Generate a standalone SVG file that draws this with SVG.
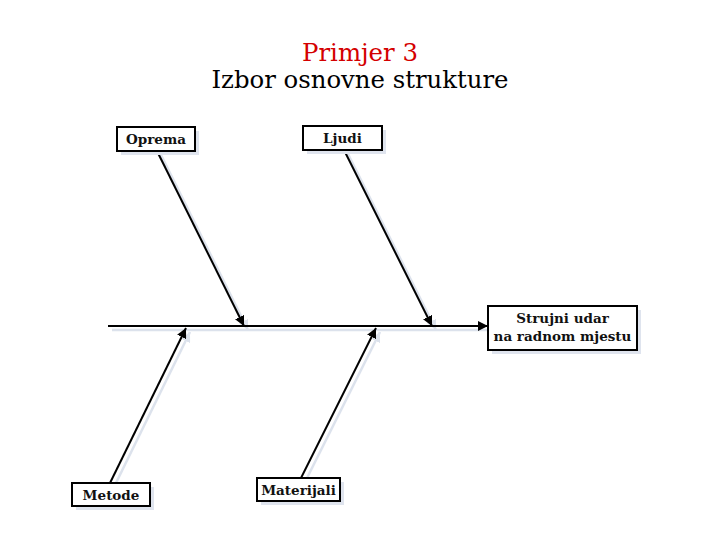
<svg xmlns="http://www.w3.org/2000/svg" width="720" height="540" viewBox="0 0 720 540">
<defs>
<style>
.box{fill:#fff;stroke:#000;stroke-width:2}
.shadow{fill:#dfe4ee;stroke:none}
.lbl{font-family:"DejaVu Serif","Liberation Serif",serif;font-weight:bold;font-size:13.5px;fill:#111;text-anchor:middle}
.line{stroke:#000;stroke-width:2;fill:none}
.sline{stroke:#dce2ec;stroke-width:2.5;fill:none}
.title{font-family:"DejaVu Serif","Liberation Serif",serif;font-size:24px;text-anchor:middle}
</style>
<marker id="ah" viewBox="0 0 10 10" refX="10" refY="5" markerWidth="5" markerHeight="5" orient="auto" markerUnits="strokeWidth">
<path d="M0,0 L10,5 L0,10 z" fill="#000"/>
</marker>
<marker id="ahs" viewBox="0 0 10 10" refX="10" refY="5" markerWidth="4" markerHeight="4" orient="auto" markerUnits="strokeWidth">
<path d="M0,0 L10,5 L0,10 z" fill="#dce2ec"/>
</marker>
</defs>
<rect width="720" height="540" fill="#fff"/>
<g id="title">
<text class="title" x="360" y="61" fill="#d40000" textLength="116" lengthAdjust="spacingAndGlyphs">Primjer 3</text>
<text class="title" x="360" y="88" fill="#000" textLength="297" lengthAdjust="spacingAndGlyphs">Izbor osnovne strukture</text>
</g>
<g id="connectors">
<line class="sline" x1="112" y1="330" x2="488" y2="330"/>
<line class="sline" x1="161" y1="155" x2="248" y2="330" marker-end="url(#ahs)"/>
<line class="sline" x1="348" y1="154" x2="436" y2="330" marker-end="url(#ahs)"/>
<line class="sline" x1="114" y1="487" x2="190" y2="332" marker-end="url(#ahs)"/>
<line class="sline" x1="305" y1="482" x2="380" y2="332" marker-end="url(#ahs)"/>
<line class="line" x1="108" y1="326" x2="488" y2="326" marker-end="url(#ah)"/>
<line class="line" x1="157" y1="151" x2="244" y2="326" marker-end="url(#ah)"/>
<line class="line" x1="344" y1="150" x2="432" y2="326" marker-end="url(#ah)"/>
<line class="line" x1="110" y1="483" x2="186" y2="328" marker-end="url(#ah)"/>
<line class="line" x1="301" y1="478" x2="376" y2="328" marker-end="url(#ah)"/>
</g>
<g id="oprema">
<rect class="shadow" x="121" y="131" width="78" height="24"/>
<rect class="box" x="117" y="127" width="78" height="24"/>
<text class="lbl" x="156" y="143.5">Oprema</text>
</g>
<g id="ljudi">
<rect class="shadow" x="307" y="130" width="79" height="24"/>
<rect class="box" x="303" y="126" width="79" height="24"/>
<text class="lbl" x="342.5" y="142.5">Ljudi</text>
</g>
<g id="strujni">
<rect class="shadow" x="492" y="310" width="149" height="44"/>
<rect class="box" x="488" y="306" width="149" height="44"/>
<text class="lbl" x="562.5" y="323">Strujni udar</text>
<text class="lbl" x="562.5" y="341">na radnom mjestu</text>
</g>
<g id="metode">
<rect class="shadow" x="76" y="487" width="78" height="23"/>
<rect class="box" x="72" y="483" width="78" height="23"/>
<text class="lbl" x="111" y="499.5">Metode</text>
</g>
<g id="materijali">
<rect class="shadow" x="261" y="482" width="83" height="23"/>
<rect class="box" x="257" y="478" width="83" height="23"/>
<text class="lbl" x="298.5" y="494.5">Materijali</text>
</g>
</svg>
